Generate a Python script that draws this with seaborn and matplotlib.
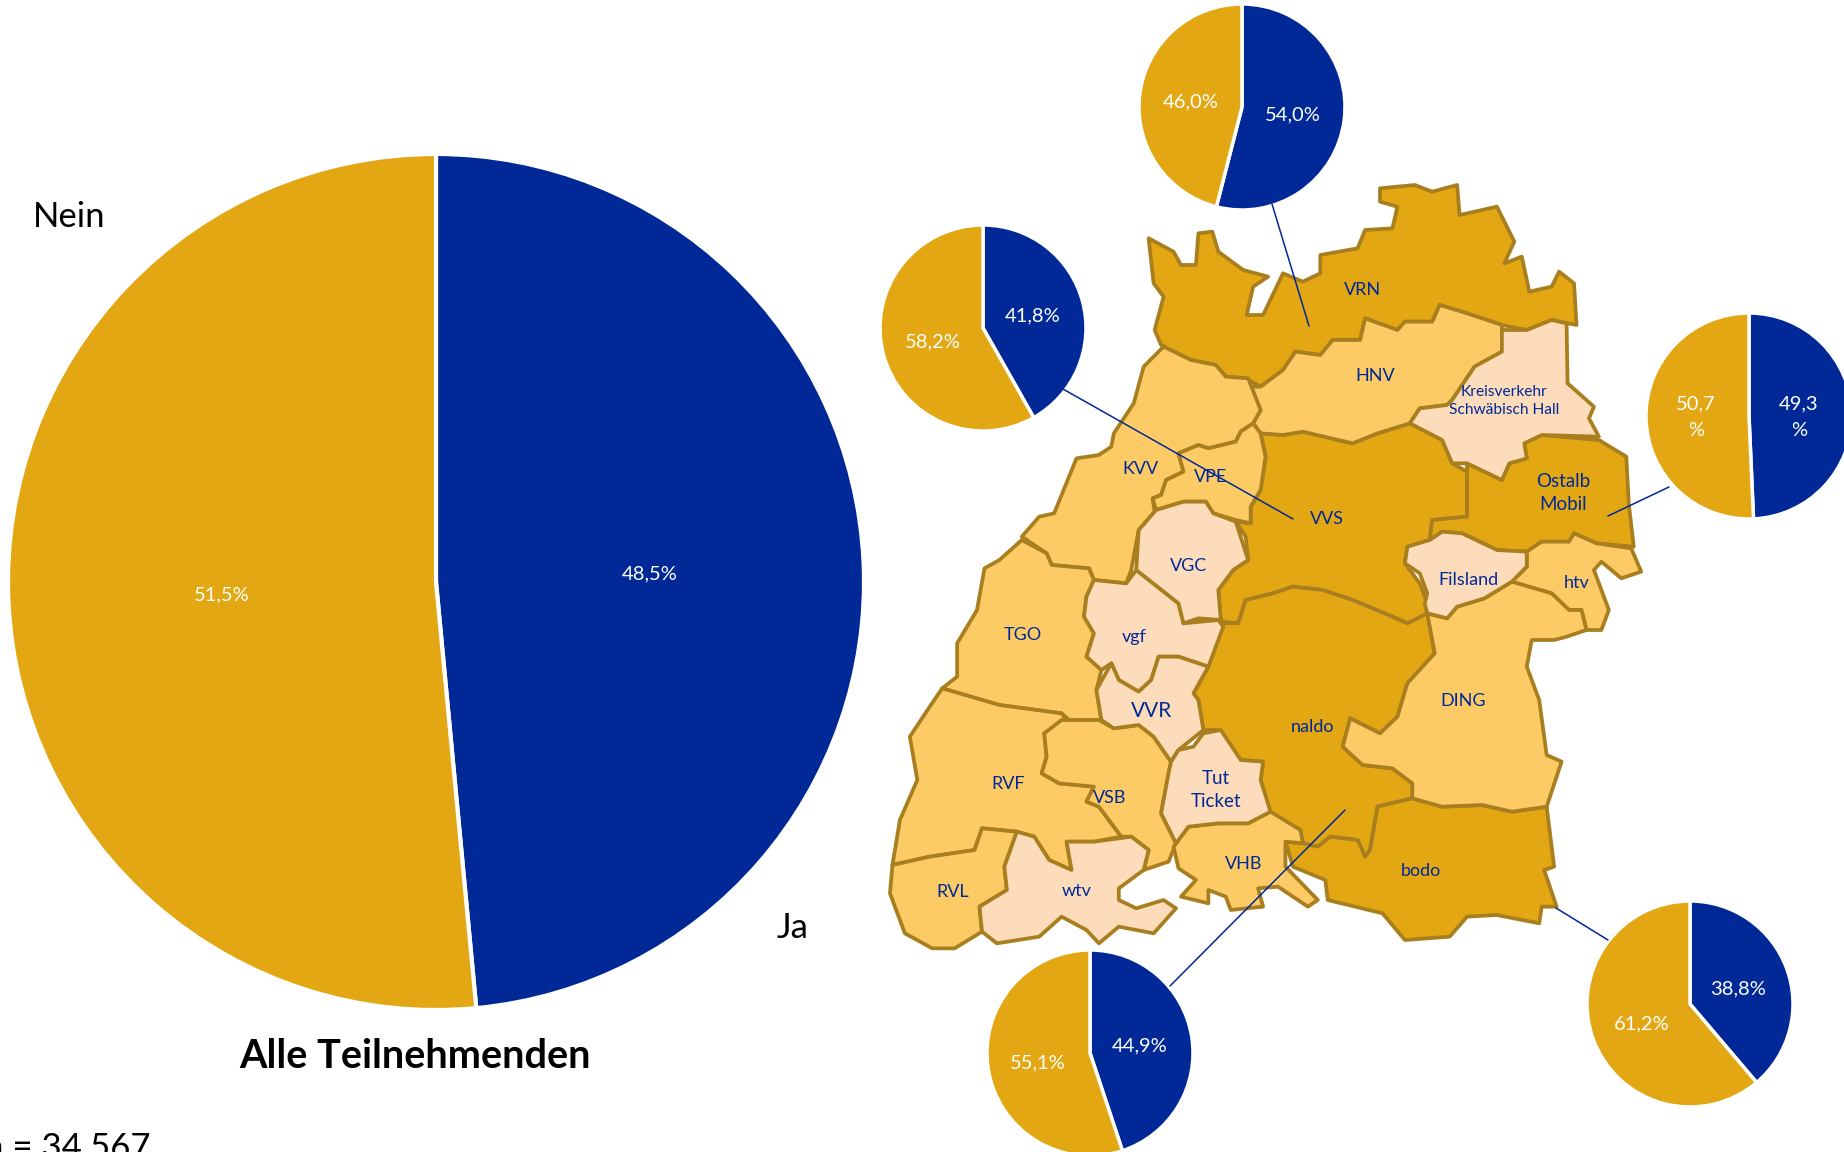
import matplotlib
matplotlib.use('Agg')
import matplotlib.pyplot as plt
import seaborn as sns

W, H = 1844, 1152

# share of "Ja" / "Nein" answers
all_values = [48.5, 51.5]
group_ja = [54.0, 41.8, 49.3, 38.8, 44.9]
group_nein = [46.0, 58.2, 50.7, 61.2, 55.1]
group_ja_labels = ['54,0%', '41,8%', '49,3\n%', '38,8%', '44,9%']
group_nein_labels = ['46,0%', '58,2%', '50,7\n%', '61,2%', '55,1%']

sns.set_theme(style='white')
plt.rcParams['font.family'] = ['Lato', 'DejaVu Sans']

BLUE = '#002997'
GOLD = '#E2A713'
MID = '#FDCB66'
LIGHT = '#FDDCBB'
EDGE = '#A87E1E'

VRN = [(540,205),(590,245),(605,285),(635,285),(640,190),(668,185),(680,245),(730,300),(780,320),(750,350),(737,435),(770,435),(810,310),(850,335),(885,310),(885,255),(960,235),(975,180),(1030,175),(1040,110),(1005,95),(1005,55),(1075,45),(1110,65),(1160,45),(1165,135),(1240,110),(1275,215),(1255,280),(1290,260),(1305,365),(1350,350),(1365,305),(1395,340),(1400,465),(1350,450),(1300,480),(1250,465),(1180,430),(1125,405),(1110,455),(1055,455),(1040,480),(975,445),(965,510),(910,510),(885,555),(835,545),(810,600),(765,650),(735,625),(695,620),(675,585),(625,570),(565,525),(552,480),(570,380),(550,340)]
HNV = [(975,445),(1040,480),(1055,455),(1110,455),(1125,405),(1180,430),(1250,465),(1250,545),(1195,590),(1150,690),(1140,705),(1085,715),(1065,760),(1000,790),(950,820),(850,785),(810,795),(765,790),(750,760),(765,720),(740,650),(765,650),(810,600),(835,545),(885,555),(910,510),(965,510)]
KREIS = [(1250,480),(1300,480),(1350,450),(1380,460),(1382,640),(1435,710),(1425,745),(1445,800),(1330,795),(1295,820),(1300,865),(1265,880),(1250,930),(1180,880),(1150,880),(1130,810),(1065,760),(1085,715),(1140,705),(1150,690),(1195,590),(1250,545)]
KVV = [(570,530),(625,570),(675,585),(695,620),(740,625),(765,720),(750,760),(725,785),(715,815),(660,835),(640,825),(600,850),(610,905),(575,930),(565,975),(548,985),(552,1025),(520,1080),(505,1200),(495,1240),(430,1230),(420,1195),(345,1185),(335,1150),(285,1100),(320,1040),(350,1030),(395,865),(440,855),(465,830),(470,790),(510,700),(530,590)]
VPE = [(765,790),(775,860),(765,960),(745,1010),(745,1060),(715,1050),(670,1030),(655,995),(610,995),(555,1020),(548,985),(565,975),(575,930),(610,905),(600,850),(640,825),(660,835),(715,815),(725,785),(750,760)]
VVS = [(765,790),(810,795),(850,785),(950,820),(1000,790),(1065,760),(1130,810),(1150,880),(1180,905),(1180,1040),(1110,1050),(1105,1110),(1060,1130),(1055,1180),(1085,1240),(1100,1300),(1105,1330),(1060,1360),(1030,1340),(950,1290),(890,1260),(830,1250),(790,1270),(735,1290),(720,1360),(685,1355),(680,1260),(710,1200),(740,1170),(735,1100),(715,1055),(745,1060),(745,1010),(765,960),(775,860)]
OSTALB = [(1180,905),(1180,880),(1250,930),(1265,880),(1300,865),(1295,820),(1330,795),(1445,810),(1500,860),(1505,1000),(1515,1130),(1440,1120),(1395,1090),(1385,1115),(1330,1115),(1300,1145),(1240,1140),(1170,1090),(1130,1085),(1105,1110),(1110,1050),(1180,1040)]
FILS = [(1130,1085),(1170,1090),(1240,1140),(1300,1145),(1300,1190),(1270,1235),(1215,1285),(1160,1310),(1140,1345),(1100,1330),(1095,1300),(1100,1270),(1085,1210),(1055,1180),(1060,1130),(1105,1110)]
HTV = [(1300,1145),(1330,1115),(1385,1115),(1395,1090),(1440,1120),(1510,1135),(1530,1205),(1490,1225),(1450,1175),(1435,1200),(1465,1320),(1450,1380),(1420,1380),(1410,1320),(1385,1320),(1350,1270),(1280,1240),(1270,1235),(1300,1190)]
DING = [(1270,1235),(1350,1270),(1385,1320),(1410,1320),(1420,1380),(1380,1400),(1355,1410),(1310,1410),(1300,1490),(1325,1590),(1340,1755),(1370,1775),(1340,1910),(1270,1925),(1210,1905),(1130,1910),(1070,1885),(1070,1840),(1030,1795),(970,1785),(930,1730),(945,1645),(1005,1690),(1040,1640),(1060,1540),(1115,1450),(1100,1330),(1140,1345),(1160,1310),(1215,1285)]
NALDO = [(735,1290),(790,1270),(830,1250),(890,1260),(950,1290),(1030,1340),(1060,1360),(1100,1330),(1115,1450),(1060,1540),(1040,1640),(1005,1690),(945,1645),(930,1730),(970,1785),(1030,1795),(1070,1840),(1070,1885),(1000,1910),(985,2040),(975,2060),(960,2010),(905,2000),(880,2030),(850,2020),(845,1980),(785,1930),(765,1830),(770,1775),(725,1770),(680,1680),(650,1680),(640,1590),(630,1570),(660,1490),(690,1360),(720,1360)]
TGO = [(285,1110),(335,1150),(345,1185),(420,1195),(430,1230),(415,1280),(410,1340),(430,1390),(415,1460),(445,1500),(435,1560),(445,1650),(380,1650),(365,1630),(240,1605),(125,1555),(155,1520),(155,1420),(195,1320),(210,1195),(240,1170)]
VGF = [(430,1230),(495,1240),(515,1200),(600,1300),(610,1360),(680,1350),(690,1370),(660,1490),(600,1460),(560,1460),(545,1530),(520,1565),(480,1530),(465,1480),(445,1500),(415,1460),(430,1390),(410,1340),(415,1280)]
VGC = [(555,1020),(610,995),(655,995),(670,1030),(715,1055),(740,1170),(710,1200),(680,1260),(685,1350),(640,1345),(610,1360),(600,1300),(515,1200),(520,1080)]
VVR = [(465,1480),(480,1530),(520,1565),(545,1530),(560,1460),(600,1460),(660,1490),(630,1570),(640,1590),(650,1680),(600,1740),(585,1775),(550,1700),(520,1665),(470,1675),(445,1650),(435,1560)]
RVF = [(125,1555),(240,1605),(365,1630),(375,1650),(330,1690),(335,1760),(325,1810),(360,1840),(430,1850),(415,1895),(440,1910),(485,2000),(430,2015),(375,2015),(385,2100),(340,2070),(310,2000),(275,1985),(205,1975),(190,2040),(100,2060),(25,2085),(40,1950),(75,1830),(60,1700),(100,1610)]
VSB = [(365,1650),(440,1650),(470,1675),(520,1665),(550,1700),(585,1775),(580,1810),(565,1930),(595,2020),(580,2075),(530,2100),(540,2040),(505,2000),(485,2000),(440,1910),(415,1895),(430,1850),(360,1840),(325,1810),(335,1760),(330,1690)]
TUT = [(685,1680),(725,1770),(770,1775),(765,1830),(785,1925),(740,1960),(680,1960),(620,1970),(595,2020),(565,1930),(580,1810),(585,1775),(600,1740),(630,1730),(650,1690)]
VHB = [(620,1970),(680,1960),(740,1960),(785,1925),(845,1980),(850,2020),(815,2015),(815,2090),(880,2190),(860,2210),(800,2150),(760,2155),(770,2210),(705,2220),(695,2180),(660,2160),(660,2200),(605,2180),(635,2130),(600,2095),(590,2030)]
BODO = [(815,2015),(850,2020),(880,2030),(905,2000),(960,2010),(975,2060),(985,2040),(1000,1910),(1070,1885),(1130,1910),(1210,1905),(1270,1925),(1340,1910),(1355,2090),(1335,2100),(1360,2210),(1330,2210),(1325,2260),(1240,2235),(1180,2240),(1145,2300),(1055,2310),(1010,2230),(900,2190),(895,2130),(830,2090)]
WTV = [(275,1985),(310,2000),(340,2070),(385,2100),(375,2015),(430,2015),(505,2000),(540,2040),(530,2100),(480,2155),(480,2190),(515,2215),(570,2190),(595,2215),(550,2290),(480,2270),(440,2320),(415,2280),(365,2240),(320,2300),(235,2320),(205,2285),(200,2210),(255,2160),(250,2090)]
RVL = [(25,2085),(100,2060),(190,2040),(205,1975),(275,1985),(250,2090),(255,2160),(200,2210),(205,2285),(150,2335),(105,2335),(50,2290),(20,2170)]

regions = [
    (VRN, GOLD), (VVS, GOLD), (OSTALB, GOLD), (NALDO, GOLD), (BODO, GOLD),
    (HNV, MID), (KVV, MID), (VPE, MID), (HTV, MID), (DING, MID), (TGO, MID),
    (RVF, MID), (VSB, MID), (VHB, MID), (RVL, MID),
    (KREIS, LIGHT), (FILS, LIGHT), (VGF, LIGHT), (VGC, LIGHT), (VVR, LIGHT),
    (TUT, LIGHT), (WTV, LIGHT),
]

map_labels = [
    ('VRN', 1362, 290, 13, 1.2), ('HNV', 1375, 376, 13, 1.2),
    ('Kreisverkehr\nSchwäbisch Hall', 1504, 401, 11.2, 1.4),
    ('Ostalb\nMobil', 1563, 493, 13.5, 1.45), ('KVV', 1140, 469, 13, 1.2),
    ('VPE', 1211, 477, 13, 1.2), ('VVS', 1327, 519, 13, 1.2), ('VGC', 1189, 566, 13, 1.2),
    ('Filsland', 1468, 580, 13, 1.2), ('htv', 1577, 583, 13, 1.2), ('TGO', 1023, 635, 13, 1.2),
    ('vgf', 1134, 637, 13, 1.2), ('VVR', 1152, 711, 15, 1.2), ('naldo', 1312, 727, 13, 1.2),
    ('DING', 1463, 701, 13, 1.2), ('RVF', 1008, 784, 13, 1.2), ('VSB', 1110, 798, 13, 1.2),
    ('Tut\nTicket', 1216, 790, 13.5, 1.37), ('VHB', 1244, 864, 13, 1.2), ('bodo', 1421, 871, 13, 1.2),
    ('RVL', 953, 892, 13, 1.2), ('wtv', 1077, 891, 13, 1.2),
]


def flip(y):
    return H - y


def draw_pie(ax, values, cx, cy, r, lw):
    ax.pie(values, colors=[BLUE, GOLD], startangle=90, counterclock=False,
           center=(cx, flip(cy)), radius=r,
           wedgeprops={'edgecolor': 'white', 'linewidth': lw})


fig = plt.figure(figsize=(W / 100, H / 100), dpi=100)
ax = fig.add_axes([0, 0, 1, 1])

for outline, colour in regions:
    xs = [880 + p[0] / 2.01 for p in outline]
    ys = [flip(170 + p[1] / 3) for p in outline]
    ax.fill(xs, ys, facecolor=colour, edgecolor=EDGE, linewidth=2.7, joinstyle='round', zorder=1)

for text, x, y, size, spacing in map_labels:
    ax.text(x, flip(y), text, color=BLUE, fontsize=size, ha='center', va='center',
            linespacing=spacing, zorder=4)

# connector lines from the small pies into the map
connectors = [((1272, 204), (1309, 326)), ((1063, 389), (1293, 519)),
              ((1669, 487), (1608, 516)), ((1556, 908), (1608, 940)),
              ((1170, 986), (1345, 810))]
for (x0, y0), (x1, y1) in connectors:
    ax.plot([x0, x1], [flip(y0), flip(y1)], color=BLUE, linewidth=1.1, zorder=5)

draw_pie(ax, all_values, 436, 582, 428, 3)
small_centres = [(1242, 107), (983, 328), (1749, 416), (1690, 1004), (1090, 1053)]
for i, (cx, cy) in enumerate(small_centres):
    draw_pie(ax, [group_ja[i], group_nein[i]], cx, cy, 103, 2.5)

ax.set_xlim(0, W)
ax.set_ylim(0, H)
ax.set_aspect('equal')
ax.axis('off')

ja_pos = [(1293, 115), (1033, 316), (1799, 417), (1738, 989), (1140, 1046)]
nein_pos = [(1191, 102), (933, 342), (1696, 417), (1642, 1024), (1038, 1063)]
for i in range(5):
    ax.text(ja_pos[i][0], flip(ja_pos[i][1]), group_ja_labels[i], color='white',
            fontsize=14.5, ha='center', va='center', linespacing=1.7)
    ax.text(nein_pos[i][0], flip(nein_pos[i][1]), group_nein_labels[i], color='white',
            fontsize=14.5, ha='center', va='center', linespacing=1.7)

ax.text(650, flip(574), '48,5%', color='white', fontsize=14.5, ha='center', va='center')
ax.text(222, flip(595), '51,5%', color='white', fontsize=14.5, ha='center', va='center')
ax.text(69, flip(217), 'Nein', color='black', fontsize=25, ha='center', va='center')
ax.text(792, flip(928), 'Ja', color='black', fontsize=25, ha='center', va='center')
ax.text(415, flip(1056), 'Alle Teilnehmenden', color='black', fontsize=28.5, fontweight='bold',
        ha='center', va='center')
ax.text(150, flip(1158), 'n = 34.567', color='black', fontsize=25, ha='right', va='baseline')

fig.savefig('out.png', dpi=100)
